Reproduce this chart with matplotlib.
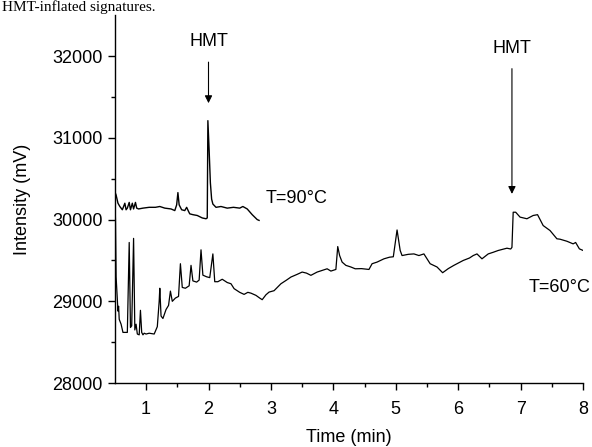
import matplotlib
matplotlib.use("Agg")
import matplotlib.pyplot as plt

plt.rcParams['font.family'] = ['Liberation Sans', 'DejaVu Sans']

# T=90°C trace
t90_x = [0.50, 0.52, 0.55, 0.58, 0.62, 0.66, 0.68, 0.70, 0.73, 0.75, 0.78, 0.80, 0.83, 0.85, 0.88,
         0.95, 1.05, 1.15, 1.22, 1.30, 1.40, 1.46, 1.49, 1.51, 1.53, 1.57, 1.62, 1.65, 1.68, 1.70,
         1.75, 1.82, 1.90, 1.96, 1.98, 1.99, 2.01, 2.03, 2.05, 2.07, 2.12, 2.20, 2.30, 2.40, 2.50,
         2.55, 2.62, 2.70, 2.78, 2.81]
t90_y = [30340, 30300, 30200, 30160, 30120, 30200, 30120, 30140, 30210, 30120, 30200, 30130, 30210, 30140, 30130,
         30140, 30150, 30150, 30160, 30140, 30130, 30110, 30180, 30330, 30180, 30120, 30110, 30150, 30100, 30070,
         30060, 30050, 30020, 30010, 30020, 31210, 30850, 30450, 30250, 30190, 30150, 30160, 30140, 30150, 30140,
         30160, 30130, 30060, 30000, 29990]

# T=60°C trace
t60_x = [0.50, 0.51, 0.52, 0.55, 0.56, 0.57, 0.60, 0.63, 0.70, 0.73, 0.75, 0.77, 0.80, 0.82, 0.84, 0.86,
         0.89, 0.91, 0.93, 0.95, 0.97, 1.00, 1.05, 1.13, 1.18, 1.21, 1.22, 1.24, 1.27, 1.32, 1.36,
         1.39, 1.42, 1.47, 1.52, 1.55, 1.58, 1.63, 1.69, 1.72, 1.75, 1.81, 1.85, 1.88, 1.91, 1.97,
         2.02, 2.07, 2.10, 2.15, 2.22, 2.30, 2.36, 2.41, 2.50, 2.57, 2.63, 2.68, 2.76, 2.82, 2.86,
         2.92, 2.97, 3.05, 3.16, 3.25, 3.32, 3.42, 3.50, 3.57, 3.64, 3.74, 3.82, 3.90, 3.96, 4.04,
         4.07, 4.10, 4.14, 4.20, 4.28, 4.35, 4.45, 4.57, 4.62, 4.70, 4.81, 4.90, 4.96, 5.02, 5.07,
         5.10, 5.20, 5.29, 5.37, 5.45, 5.55, 5.66, 5.75, 5.84, 5.93, 6.08, 6.18, 6.24, 6.30, 6.38,
         6.48, 6.56, 6.64, 6.78, 6.84, 6.86, 6.88, 6.92, 6.99, 7.10, 7.20, 7.27, 7.36, 7.47, 7.58,
         7.63, 7.74, 7.84, 7.88, 7.94, 8.00]
t60_y = [30300, 30000, 29300, 28880, 28940, 28780, 28720, 28620, 28620, 29720, 28680, 28700, 29770, 28650, 28720, 28600,
         28590, 28890, 28620, 28590, 28610, 28600, 28610, 28600, 28690, 29000, 29160, 28820, 28790, 28900, 28950,
         29125, 29000, 29040, 29060, 29460, 29170, 29160, 29190, 29440, 29250, 29235, 29260, 29630, 29320, 29300,
         29290, 29580, 29240, 29240, 29270, 29230, 29215, 29155, 29110, 29085, 29110, 29100, 29073, 29040, 29020,
         29080, 29113, 29130, 29215, 29260, 29297, 29330, 29358, 29345, 29318, 29358, 29378, 29398, 29370, 29390,
         29670, 29560, 29480, 29440, 29420, 29398, 29400, 29390, 29460, 29480, 29520, 29540, 29545, 29873, 29622,
         29560, 29575, 29580, 29560, 29580, 29460, 29420, 29350, 29400, 29440, 29500, 29530, 29560, 29580, 29520,
         29580, 29600, 29622, 29650, 29640, 29660, 30090, 30090, 30030, 30010, 30050, 30060, 29927, 29866, 29765,
         29760, 29735, 29703, 29720, 29642, 29622]

fig = plt.figure(figsize=(5.92, 4.47), dpi=100)
ax = fig.add_axes([0.194, 0.143, 0.791, 0.823])

ax.plot(t90_x, t90_y, color='black', lw=1.0)
ax.plot(t60_x, t60_y, color='black', lw=0.9)

ax.set_xlim(0.5, 8.0)
ax.set_ylim(28000, 32500)
ax.set_xticks([1, 2, 3, 4, 5, 6, 7, 8])
ax.set_xticks([1.5, 2.5, 3.5, 4.5, 5.5, 6.5, 7.5], minor=True)
ax.set_yticks([28000, 29000, 30000, 31000, 32000])
ax.set_yticks([28500, 29500, 30500, 31500], minor=True)
ax.tick_params(which='major', direction='out', length=5, width=1, labelsize=13, pad=4)
ax.tick_params(which='minor', direction='out', length=3, width=1)
ax.tick_params(axis='x', which='major', pad=8)
for s in ['top', 'right']:
    ax.spines[s].set_visible(False)
for s in ['left', 'bottom']:
    ax.spines[s].set_linewidth(1.0)

ax.set_xlabel('Time (min)', fontsize=13, labelpad=8)
ax.set_ylabel('Intensity (mV)', fontsize=13, labelpad=15)

ax.annotate('', xy=(2.0, 31390), xytext=(2.0, 31960),
            arrowprops=dict(arrowstyle='-|>', color='black', lw=0.8, mutation_scale=11))
ax.text(2.0, 32180, 'HMT', ha='center', va='center', fontsize=13)
ax.annotate('', xy=(6.86, 30280), xytext=(6.86, 31880),
            arrowprops=dict(arrowstyle='-|>', color='black', lw=0.8, mutation_scale=11))
ax.text(6.86, 32090, 'HMT', ha='center', va='center', fontsize=13)

ax.text(2.92, 30256, 'T=90°C', ha='left', va='center', fontsize=13)
ax.text(7.12, 29170, 'T=60°C', ha='left', va='center', fontsize=13)

fig.text(0.003, 0.999, 'HMT-inflated signatures.', ha='left', va='top',
         fontsize=11, family=['Liberation Serif', 'DejaVu Serif'])

fig.savefig('out.png', dpi=100)
